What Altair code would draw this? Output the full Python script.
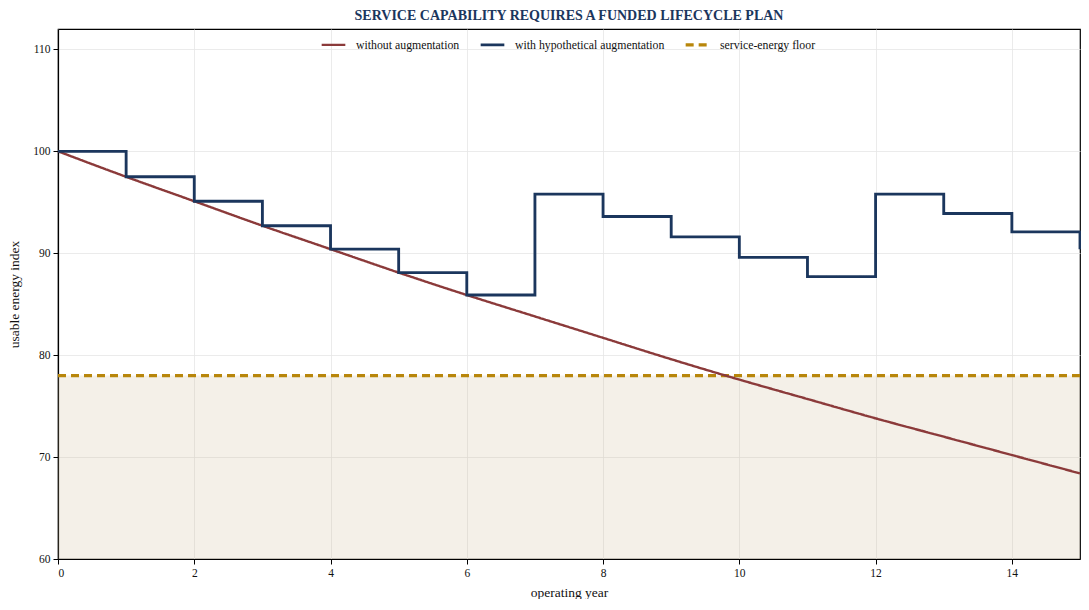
import altair as alt
import pandas as pd

years = list(range(16))
without_aug = [100.0, 97.5, 95.1, 92.7, 90.4, 88.1, 85.9, 83.8, 81.7, 79.6,
               77.6, 75.7, 73.8, 72.0, 70.2, 68.4]
with_aug = [100.0, 97.5, 95.1, 92.7, 90.4, 88.1, 85.9, 95.8, 93.6, 91.6,
            89.6, 87.7, 95.8, 93.9, 92.1, 90.4]
floor_value = 78.0

S1 = "without augmentation"
S2 = "with hypothetical augmentation"
S3 = "service-energy floor"
series_names = [S1, S2, S3]
series_colors = ["#8b3a3a", "#1b365d", "#b8860b"]
series_dash = [[1, 0], [1, 0], [8, 5]]
series_width = [2.4, 3.3, 2.2]

FONT = "Liberation Serif"

df_without = pd.DataFrame({"year": years, "value": without_aug, "series": S1})
df_with = pd.DataFrame({"year": years, "value": with_aug, "series": S2})
df_floor = pd.DataFrame({"y": [floor_value], "series": [S3]})
df_band = pd.DataFrame({"x": [years[0]], "x2": [years[-1]], "y": [60], "y2": [floor_value]})

x_scale = alt.Scale(domain=[0, 15], nice=False)
y_scale = alt.Scale(domain=[60, 112], nice=False)

color_enc = alt.Color("series:N",
                      scale=alt.Scale(domain=series_names, range=series_colors),
                      legend=alt.Legend(title=None, orient="none", direction="horizontal",
                                        legendX=262, legendY=2, symbolType="stroke",
                                        symbolSize=560, labelFont=FONT, labelFontSize=11.8,
                                        labelColor="#111", columnPadding=14, labelOffset=9))
dash_enc = alt.StrokeDash("series:N",
                          scale=alt.Scale(domain=series_names, range=series_dash),
                          legend=alt.Legend(title=None))
width_enc = alt.StrokeWidth("series:N",
                            scale=alt.Scale(domain=series_names, range=series_width),
                            legend=alt.Legend(title=None))

xax = alt.Axis(title="operating year", values=[0, 2, 4, 6, 8, 10, 12, 14], format="d")
yax = alt.Axis(title="usable energy index", values=[60, 70, 80, 90, 100, 110])

band = alt.Chart(df_band).mark_rect(color="#c8b48a", opacity=0.2).encode(
    x=alt.X("x:Q", scale=x_scale, axis=xax),
    x2="x2:Q",
    y=alt.Y("y:Q", scale=y_scale, axis=yax),
    y2="y2:Q",
)

line_without = alt.Chart(df_without).mark_line(interpolate="monotone").encode(
    x=alt.X("year:Q", scale=x_scale),
    y=alt.Y("value:Q", scale=y_scale),
    color=color_enc, strokeDash=dash_enc, strokeWidth=width_enc,
)

line_with = alt.Chart(df_with).mark_line(interpolate="step-after").encode(
    x=alt.X("year:Q", scale=x_scale),
    y=alt.Y("value:Q", scale=y_scale),
    color=color_enc, strokeDash=dash_enc, strokeWidth=width_enc,
)

floor_rule = alt.Chart(df_floor).mark_rule().encode(
    y=alt.Y("y:Q", scale=y_scale),
    color=color_enc, strokeDash=dash_enc, strokeWidth=width_enc,
)

chart = alt.layer(band, floor_rule, line_without, line_with).properties(
    width=1022, height=530,
    autosize=alt.AutoSizeParams(type="none"),
    padding={"left": 50, "top": 21, "right": 1, "bottom": 40},
    title=alt.TitleParams("SERVICE CAPABILITY REQUIRES A FUNDED LIFECYCLE PLAN",
                          font=FONT, fontSize=14, fontWeight="bold", color="#1b365d",
                          anchor="middle", offset=6),
).configure_view(
    stroke="#000", strokeWidth=1.2
).configure_axis(
    labelFont=FONT, titleFont=FONT, labelFontSize=11.5, titleFontSize=13.5,
    titleFontWeight="normal", labelColor="#111", titleColor="#111",
    domainColor="#000", tickColor="#000", tickSize=5, domainWidth=1.2,
    gridColor="#e6e6e6", gridWidth=0.8, labelPadding=3,
).configure_axisY(
    titlePadding=11
).configure_axisX(
    titlePadding=7
)

chart.save("out.html", embed_options={"renderer": "svg", "actions": False})
